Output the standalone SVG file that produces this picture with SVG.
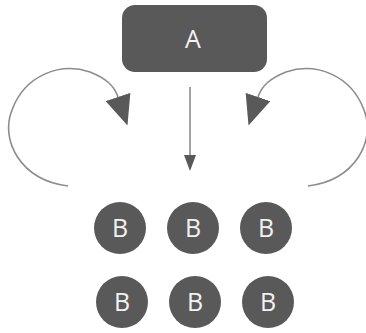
<svg xmlns="http://www.w3.org/2000/svg" width="366" height="333" viewBox="0 0 366 333">
<style>
.node{fill:#595959}
.lbl{fill:#f2f2f2;font-family:"Open Sans","DejaVu Sans",sans-serif;font-size:25px;text-anchor:middle}
.conn{fill:none;stroke:#8c8c8c;stroke-width:1.6}
</style>
<defs>
<marker id="big" markerUnits="userSpaceOnUse" viewBox="0 0 30 26" refX="0" refY="13" markerWidth="30" markerHeight="26" orient="auto">
<path d="M0,0 L30,13 L0,26 z" fill="#595959"/>
</marker>
<marker id="small" markerUnits="userSpaceOnUse" viewBox="0 0 16 12" refX="0" refY="6" markerWidth="16" markerHeight="12" orient="auto">
<path d="M0,0 L16,6 L0,12 z" fill="#595959"/>
</marker>
</defs>
<g id="connectors">
<path class="conn" d="M 190 87 L 190 155" marker-end="url(#small)"/>
<path class="conn" d="M 68 186 C 20 180, 0 140, 12 110 C 25 75, 60 62, 90 72 C 105 78, 114 85, 118 97" marker-end="url(#big)"/>
<path class="conn" d="M 308 186 C 356 180, 376 140, 364 110 C 351 75, 316 62, 286 72 C 271 78, 262 85, 258 97" marker-end="url(#big)"/>
</g>
<g id="nodeA"><rect class="node" x="122" y="5" width="145" height="67" rx="13"/><text class="lbl" x="193" y="48">A</text></g>
<g id="nodeB1"><circle class="node" cx="120" cy="228" r="26"/><text class="lbl" x="120" y="237">B</text></g>
<g id="nodeB2"><circle class="node" cx="193" cy="228" r="26"/><text class="lbl" x="193" y="237">B</text></g>
<g id="nodeB3"><circle class="node" cx="266" cy="228" r="26"/><text class="lbl" x="266" y="237">B</text></g>
<g id="nodeB4"><circle class="node" cx="122" cy="302" r="26"/><text class="lbl" x="122" y="311">B</text></g>
<g id="nodeB5"><circle class="node" cx="195" cy="302" r="26"/><text class="lbl" x="195" y="311">B</text></g>
<g id="nodeB6"><circle class="node" cx="268" cy="302" r="26"/><text class="lbl" x="268" y="311">B</text></g>
</svg>
